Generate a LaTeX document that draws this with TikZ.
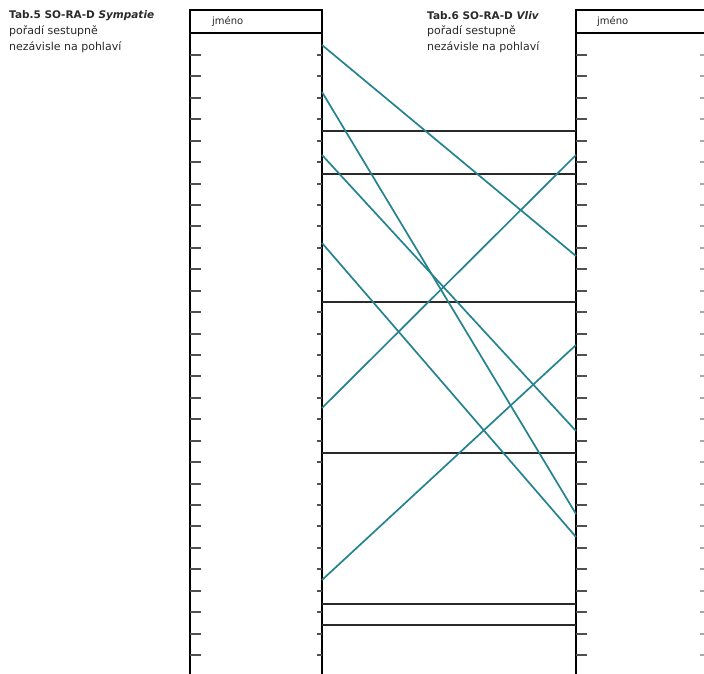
\documentclass[tikz,border=0pt]{standalone}
\usepackage{fontspec}
\usepackage{xcolor}
\usepackage{tikz}
\setmainfont{DejaVu Sans}
\definecolor{SRTeal}{HTML}{24838F}
\definecolor{SRRule}{HTML}{2A2A2A}
\definecolor{SRTick}{HTML}{505050}
\definecolor{SRText}{HTML}{2A2A2A}

\begin{document}
\begin{tikzpicture}[x=1pt,y=-1pt,
  frame/.style={black,line width=2.2pt},
  tick/.style={SRTick,line width=1.8pt},
  rowline/.style={SRRule,line width=1.9pt},
  link/.style={SRTeal,line width=1.7pt},
  caption/.style={anchor=west,inner sep=0pt,text=SRText}]
\path[use as bounding box] (0,0) rectangle (704,673);
\fill[white] (0,0) rectangle (704,673);
\node[caption] (capA) at (9,16) {\fontsize{10.5}{12}\selectfont\bfseries Tab.5 SO-RA-D \itshape Sympatie};
\node[caption] (capA2) at (9,31) {\fontsize{11}{13}\selectfont pořadí sestupně};
\node[caption] (capA3) at (9,47) {\fontsize{11}{13}\selectfont nezávisle na pohlaví};
\node[caption] (capB) at (427,16) {\fontsize{10.5}{12}\selectfont\bfseries Tab.6 SO-RA-D \itshape Vliv};
\node[caption] (capB2) at (427,31) {\fontsize{11}{13}\selectfont pořadí sestupně};
\node[caption] (capB3) at (427,47) {\fontsize{11}{13}\selectfont nezávisle na pohlaví};
\draw[frame] (190,674) -- (190,10) -- (322,10) -- (322,674);
\draw[frame] (190,33) -- (322,33);
\node[caption] (headA) at (212,22) {\fontsize{10}{12}\selectfont jméno};
\draw[frame] (705,10) -- (576,10) -- (576,674);
\draw[frame] (576,33) -- (705,33);
\node[caption] (headB) at (597,22) {\fontsize{10}{12}\selectfont jméno};
\foreach \k in {0,...,28}{
  \pgfmathsetmacro{\ty}{round(55+21.43*\k)}
  \draw[tick] (190,\ty) -- (201,\ty);
  \draw[tick] (317,\ty) -- (322,\ty);
  \draw[tick] (576,\ty) -- (587,\ty);
  \draw[tick,SRTick!50] (700,\ty) -- (704,\ty);
}
\foreach \i/\a in {1/131,2/174,3/302,4/453,5/604,6/625}{
  \coordinate (ha\i) at (322,\a);
  \coordinate (hb\i) at (576,\a);
  \draw[rowline] (ha\i) -- (hb\i);
}
\foreach \i/\a/\b in {1/45/256,2/92/514,3/155/431,4/243/537,5/408/155,6/580/345}{
  \coordinate (la\i) at (322,\a);
  \coordinate (rb\i) at (576,\b);
  \draw[link] (la\i) -- (rb\i);
}
\end{tikzpicture}
\end{document}
